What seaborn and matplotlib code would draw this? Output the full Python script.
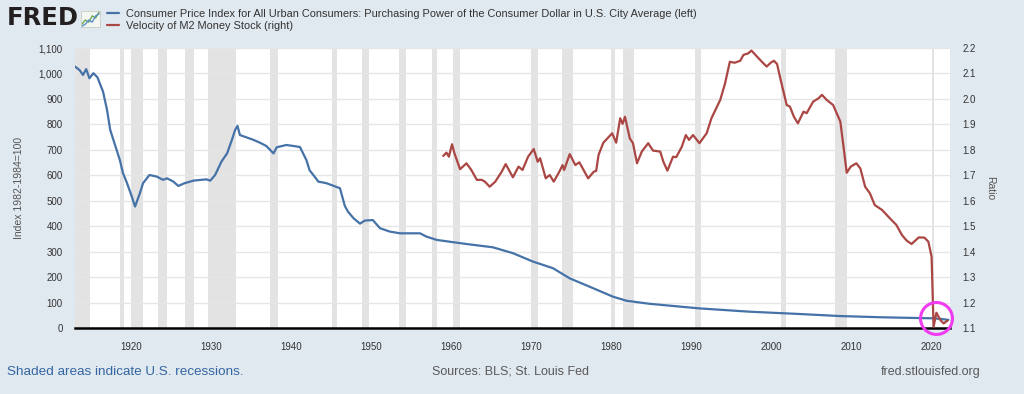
import numpy as np
import pandas as pd
import matplotlib
matplotlib.use("Agg")
import matplotlib.pyplot as plt
import seaborn as sns
from matplotlib.ticker import FuncFormatter

# Purchasing power of the consumer dollar (index 1982-1984=100), left axis
cpi_years = [1913.0, 1913.3, 1913.6, 1914.0, 1914.4, 1914.8, 1915.3, 1915.8, 1916.5, 1917.0,
             1917.4, 1918.0, 1918.6, 1919.0, 1919.5, 1920.1, 1920.5, 1921.1, 1921.5, 1922.3,
             1923.2, 1924.0, 1924.5, 1925.3, 1925.9, 1926.7, 1927.8, 1929.4, 1929.9, 1930.5,
             1931.3, 1932.0, 1932.6, 1933.0, 1933.3, 1933.6, 1934.5, 1935.3, 1936.1, 1936.9,
             1937.8, 1938.2, 1939.4, 1940.3, 1941.1, 1941.9, 1942.3, 1942.8, 1943.4, 1944.4,
             1945.0, 1946.1, 1946.7, 1947.1, 1947.8, 1948.6, 1949.2, 1950.2, 1951.1, 1952.3,
             1953.6, 1956.1, 1956.9, 1958.2, 1959.8, 1961.9, 1965.2, 1967.7, 1970.2, 1972.7,
             1974.8, 1977.3, 1980.2, 1981.9, 1984.8, 1991.0, 1997.3, 2003.5, 2008.5, 2013.9,
             2020.2, 2021.0, 2022.1]
cpi_values = [1027, 1020, 1012, 994, 1017, 981, 1001, 985, 929, 857,
              778, 719, 660, 608, 569, 516, 477, 529, 569, 601,
              595, 582, 588, 575, 558, 569, 579, 584, 579, 601,
              654, 686, 739, 778, 794, 758, 748, 739, 728, 715,
              686, 710, 719, 715, 711, 660, 620, 600, 575, 569,
              562, 549, 480, 457, 431, 410, 422, 424, 392, 379,
              372, 372, 359, 346, 339, 330, 317, 294, 261, 235,
              195, 162, 123, 107, 95, 77, 64, 55, 47, 42,
              38, 36, 32]

# Velocity of M2 money stock (ratio), right axis
m2v_years = [1959.0, 1959.4, 1959.7, 1960.1, 1960.4, 1961.1, 1961.9, 1962.5, 1963.2, 1963.8,
             1964.2, 1964.8, 1965.5, 1966.3, 1966.8, 1967.7, 1968.4, 1968.9, 1969.6, 1970.3,
             1970.8, 1971.1, 1971.8, 1972.3, 1972.8, 1973.5, 1973.9, 1974.1, 1974.8, 1975.5,
             1976.0, 1977.1, 1977.8, 1978.1, 1978.4, 1979.0, 1980.1, 1980.6, 1981.1, 1981.4,
             1981.7, 1982.3, 1982.7, 1983.2, 1983.8, 1984.6, 1985.2, 1986.1, 1986.5, 1987.0,
             1987.7, 1988.1, 1988.8, 1989.3, 1989.7, 1990.2, 1991.0, 1991.9, 1992.5, 1993.6,
             1994.2, 1994.8, 1995.4, 1996.1, 1996.5, 1997.1, 1997.5, 1998.2, 1998.8, 1999.4,
             1999.9, 2000.3, 2000.7, 2001.1, 2001.9, 2002.3, 2002.8, 2003.3, 2004.0, 2004.4,
             2005.2, 2005.9, 2006.3, 2006.9, 2007.7, 2008.6, 2009.0, 2009.4, 2009.9, 2010.6,
             2011.1, 2011.7, 2012.3, 2012.9, 2013.8, 2014.4, 2015.0, 2015.6, 2016.3, 2016.9,
             2017.5, 2018.4, 2019.1, 2019.6, 2020.0, 2020.25, 2020.6, 2021.1, 2021.5, 2022.0]
m2v_values = [1.776, 1.789, 1.773, 1.822, 1.786, 1.724, 1.747, 1.721, 1.682, 1.682,
              1.675, 1.655, 1.675, 1.714, 1.744, 1.692, 1.734, 1.721, 1.773, 1.803,
              1.753, 1.767, 1.688, 1.701, 1.675, 1.714, 1.740, 1.721, 1.783, 1.740,
              1.751, 1.688, 1.714, 1.717, 1.780, 1.828, 1.865, 1.828, 1.924, 1.902,
              1.930, 1.845, 1.826, 1.747, 1.793, 1.826, 1.797, 1.793, 1.753, 1.718,
              1.773, 1.771, 1.812, 1.858, 1.839, 1.858, 1.826, 1.865, 1.924, 1.996,
              2.061, 2.146, 2.142, 2.150, 2.173, 2.179, 2.190, 2.166, 2.146, 2.127,
              2.142, 2.150, 2.137, 2.081, 1.976, 1.970, 1.930, 1.904, 1.950, 1.944,
              1.989, 2.003, 2.016, 1.996, 1.976, 1.911, 1.812, 1.710, 1.734, 1.747,
              1.727, 1.655, 1.629, 1.583, 1.564, 1.544, 1.524, 1.505, 1.465, 1.443,
              1.430, 1.456, 1.455, 1.439, 1.380, 1.105, 1.160, 1.131, 1.118, 1.129]

# US recessions (NBER), start / end month
rec_start = ["1913-01", "1918-08", "1920-01", "1923-05", "1926-10", "1929-08", "1937-05",
             "1945-02", "1948-11", "1953-07", "1957-08", "1960-04", "1969-12", "1973-11",
             "1980-01", "1981-07", "1990-07", "2001-03", "2007-12", "2020-02"]
rec_end = ["1914-12", "1919-03", "1921-07", "1924-07", "1927-11", "1933-03", "1938-06",
           "1945-10", "1949-10", "1954-05", "1958-04", "1961-02", "1970-11", "1975-03",
           "1980-07", "1982-11", "1991-03", "2001-11", "2009-06", "2020-04"]

left_ticks = list(range(0, 1101, 100))
right_ticks = [1.1, 1.2, 1.3, 1.4, 1.5, 1.6, 1.7, 1.8, 1.9, 2.0, 2.1, 2.2]
x_ticks = [1920, 1930, 1940, 1950, 1960, 1970, 1980, 1990, 2000, 2010, 2020]

label_cpi = "Consumer Price Index for All Urban Consumers: Purchasing Power of the Consumer Dollar in U.S. City Average (left)"
label_m2v = "Velocity of M2 Money Stock (right)"

# icon of the FRED logo (decoration)
icon_a = [2, 4, 3, 6, 5, 8]
icon_b = [1, 2, 4, 3, 6, 7]


def to_year(s):
    y, m = s.split("-")
    return int(y) + (int(m) - 1) / 12


cpi = pd.DataFrame({"year": cpi_years, "value": cpi_values})
m2v = pd.DataFrame({"year": m2v_years, "value": m2v_values})

sns.set_style("white")
plt.rcParams["font.family"] = ["Liberation Sans", "DejaVu Sans"]

BG = "#e1e9f0"
BLUE = "#4572a7"
RED = "#aa4643"
TXT = "#333333"

fig = plt.figure(figsize=(10.24, 3.94), dpi=100, facecolor=BG)
ax = fig.add_axes([75 / 1024, 1 - 328 / 394, 875 / 1024, 280 / 394])
ax.set_facecolor("white")

for s, e in zip(rec_start, rec_end):
    ax.axvspan(to_year(s), to_year(e), color="#e3e3e3", lw=0, zorder=0)

sns.lineplot(data=cpi, x="year", y="value", ax=ax, color=BLUE, lw=1.6, label=label_cpi, legend=False)
ax.set_xlim(1913.0, 2022.3)
ax.set_ylim(0, 1100)
ax.set_yticks(left_ticks)
ax.yaxis.set_major_formatter(FuncFormatter(lambda v, p: f"{int(v):,}"))
ax.set_xticks(x_ticks)
ax.grid(axis="y", color="#e6e6e6", lw=1)
ax.grid(axis="x", visible=False)
for side in ["left", "right", "top"]:
    ax.spines[side].set_visible(False)
ax.spines["bottom"].set_color("black")
ax.spines["bottom"].set_linewidth(1.8)
ax.tick_params(axis="x", length=5, color="#ccd6eb", labelsize=7, labelcolor=TXT, pad=5)
ax.tick_params(axis="y", length=0, labelsize=7, labelcolor=TXT, pad=9)
ax.set_xlabel("")
ax.set_ylabel("Index 1982-1984=100", fontsize=7.5, color="#555555", labelpad=10)

ax2 = ax.twinx()
sns.lineplot(data=m2v, x="year", y="value", ax=ax2, color=RED, lw=1.6, label=label_m2v, legend=False)
ax2.set_ylim(1.1, 2.2)
ax2.set_yticks(right_ticks)
ax2.yaxis.set_major_formatter(FuncFormatter(lambda v, p: f"{v:.1f}"))
ax2.grid(False)
for side in ["left", "right", "top", "bottom"]:
    ax2.spines[side].set_visible(False)
ax2.tick_params(axis="y", length=0, labelsize=7, labelcolor=TXT, pad=9)
ax2.set_ylabel("Ratio", fontsize=7.5, color="#555555", rotation=270, labelpad=14)
ax2.set_xlim(1913.0, 2022.3)

# magenta highlight circle
ax2.plot([2020.6], [1.138], marker="o", ms=23, mfc="none", mec="#f03cf0", mew=2.2,
         clip_on=False, zorder=5)

# legend
h1 = ax.get_lines()[0]
h2 = ax2.get_lines()[0]
fig.legend([h1, h2], [label_cpi, label_m2v], loc="upper left",
           bbox_to_anchor=(107 / 1024, 1 - 9 / 394), frameon=False, fontsize=7.9,
           handlelength=1.1, handletextpad=0.6, labelspacing=0.15,
           borderpad=0, borderaxespad=0, labelcolor=TXT)

# FRED logo
fig.text(7 / 1024, 1 - 18 / 394, "FRED", fontsize=17.5, fontweight="bold", color="#231f20",
         va="center", ha="left", family="DejaVu Sans")
icon = fig.add_axes([81 / 1024, 1 - 27 / 394, 19 / 1024, 16 / 394])
icon.set_facecolor("#f4f6f2")
icon.plot(range(len(icon_a)), icon_a, color="#6aa84f", lw=1)
icon.plot(range(len(icon_b)), icon_b, color="#5b8fd0", lw=1)
icon.set_xticks([])
icon.set_yticks([])
for sp in icon.spines.values():
    sp.set_color("#c8ccc4")
    sp.set_linewidth(0.6)

# footer
fig.text(7 / 1024, 1 - 372 / 394, "Shaded areas indicate U.S. recessions.", fontsize=9.7,
         color="#3466a1", va="center", ha="left")
fig.text(510 / 1024, 1 - 372 / 394, "Sources: BLS; St. Louis Fed", fontsize=9,
         color="#595959", va="center", ha="center")
fig.text(981 / 1024, 1 - 372 / 394, "fred.stlouisfed.org", fontsize=9,
         color="#595959", va="center", ha="right")

fig.savefig("out.png", dpi=100, facecolor=BG)
